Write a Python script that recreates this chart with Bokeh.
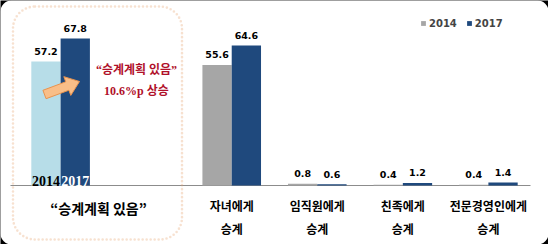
from bokeh.core.properties import value
from bokeh.embed import file_html
from bokeh.models import BoxAnnotation, FactorRange, Legend, LegendItem, Range1d
from bokeh.plotting import figure
from bokeh.resources import INLINE
import math

# --- data -------------------------------------------------------------------
categories = ["승계계획 있음", "자녀에게 승계", "임직원에게 승계", "친족에게 승계", "전문경영인에게 승계"]
years = ["2014", "2017"]
values_2014 = [57.2, 55.6, 0.8, 0.4, 0.4]
values_2017 = [67.8, 64.6, 0.6, 1.2, 1.4]
label_line1 = ["“승계계획 있음”", "자녀에게", "임직원에게", "친족에게", "전문경영인에게"]
label_line2 = ["", "승계", "승계", "승계", "승계"]
note_lines = ["“승계계획 있음”", "10.6%p 상승"]

# --- layout -----------------------------------------------------------------
W, H = 548, 244
BAR_PX = 29.3            # pixel width of one bar slot
GROUP_PAD = 0.92         # gap between groups, in bar widths
BASE_PX = 185            # pixel row of the zero line
PX_PER_UNIT = 2.168      # vertical pixels per percentage point

LIGHT, GRAY, NAVY, RED = "#B7DDE8", "#A6A6A6", "#1F497D", "#B0102A"
FONT_KR = "Noto Sans CJK KR"
FONT_NUM = "DejaVu Sans"
FONT_SERIF = "Liberation Serif"

SPACER = " "
factors = [(categories[0], y) for y in years] + [(SPACER, y) for y in years] + \
          [(c, y) for c in categories[1:] for y in years]
n_units = len(factors) + (len(categories)) * GROUP_PAD
PAD = (W / BAR_PX - n_units) / 2


def xpx(px):
    return -PAD + px / BAR_PX


def ypx(py):
    return (BASE_PX - py) / PX_PER_UNIT


x_range = FactorRange(*factors, group_padding=GROUP_PAD, factor_padding=0,
                      range_padding=PAD, range_padding_units="absolute")
y_range = Range1d(-(H - BASE_PX) / PX_PER_UNIT, BASE_PX / PX_PER_UNIT)

p = figure(width=W, height=H, x_range=x_range, y_range=y_range,
           x_axis_location=None, y_axis_location=None,
           output_backend="svg", toolbar_location=None, min_border=0)
p.grid.visible = False
p.outline_line_color = None
p.background_fill_color = "black"
p.border_fill_color = "black"

# white rounded card
p.add_layout(BoxAnnotation(fill_color="white", fill_alpha=1, line_alpha=0,
                           border_radius=11, level="underlay"))

# dotted highlight around the first group
p.add_layout(BoxAnnotation(left=xpx(12.5), right=xpx(181.5), top=ypx(6), bottom=ypx(239),
                           fill_alpha=0, line_color="#E39A62", line_width=2.6,
                           line_dash="0 4", line_cap="round", border_radius=22))

# baseline
p.segment(x0=[xpx(10)], y0=[0], x1=[xpx(530)], y1=[0], line_color="#8C8C8C", line_width=1)

# --- bars -------------------------------------------------------------------
r_first = p.vbar(x=[(categories[0], "2014")], top=[values_2014[0]], width=1.0,
                 fill_color=LIGHT, line_color=None)
r_2014 = p.vbar(x=[(c, "2014") for c in categories[1:]], top=values_2014[1:], width=1.0,
                fill_color=GRAY, line_color=None)
r_2017 = p.vbar(x=[(c, "2017") for c in categories], top=values_2017, width=1.0,
                fill_color=NAVY, line_color=None)

# value labels
p.text(x=[(c, "2014") for c in categories], y=values_2014,
       text=[f"{v:.1f}" for v in values_2014], text_align="center",
       text_baseline="alphabetic", y_offset=-10, text_font=value(FONT_NUM),
       text_font_style="bold", text_font_size="9.5px", text_color="black")
p.text(x=[(c, "2017") for c in categories], y=values_2017,
       text=[f"{v:.1f}" for v in values_2017], text_align="center",
       text_baseline="alphabetic", y_offset=-10, text_font=value(FONT_NUM),
       text_font_style="bold", text_font_size="9.5px", text_color="black")

# year captions inside the highlighted bars
p.text(x=[(categories[0], y) for y in years], y=[0, 0], text=years,
       text_align="center", text_baseline="alphabetic", y_offset=-5,
       text_font=value(FONT_SERIF), text_font_style="bold", text_font_size="14px",
       text_color=["black", "white"])

# category labels
p.text(x=categories[1:], y=[ypx(205)] * 4, text=label_line1[1:], text_align="center",
       text_baseline="middle", text_font=value(FONT_KR), text_font_style="bold",
       text_font_size="12px", text_color="black")
p.text(x=categories[1:], y=[ypx(227.5)] * 4, text=label_line2[1:], text_align="center",
       text_baseline="middle", text_font=value(FONT_KR), text_font_style="bold",
       text_font_size="12px", text_color="black")
p.text(x=[xpx(98)], y=[ypx(207)], text=[label_line1[0]], text_align="center",
       text_baseline="middle", text_font=value(FONT_KR), text_font_style="bold",
       text_font_size="14px", text_color="black")

# growth note
p.text(x=[xpx(136)] * 2, y=[ypx(69), ypx(90)], text=note_lines, text_align="center",
       text_baseline="middle", text_font=value(f"{FONT_SERIF}, {FONT_KR}"),
       text_font_style="bold", text_font_size="12px", text_color=RED)

# block arrow pointing from the 2014 bar to the 2017 bar
tail, tip = (44.0, 94.0), (79.0, 81.0)
dx, dy = tip[0] - tail[0], tip[1] - tail[1]
L = math.hypot(dx, dy)
ux, uy = dx / L, dy / L
nx, ny = -uy, ux
shaft_w, head_w, head_l = 9.0, 20.0, 13.0
neck = (tip[0] - ux * head_l, tip[1] - uy * head_l)
pts = [
    (tail[0] + nx * shaft_w / 2, tail[1] + ny * shaft_w / 2),
    (neck[0] + nx * shaft_w / 2, neck[1] + ny * shaft_w / 2),
    (neck[0] + nx * head_w / 2, neck[1] + ny * head_w / 2),
    tip,
    (neck[0] - nx * head_w / 2, neck[1] - ny * head_w / 2),
    (neck[0] - nx * shaft_w / 2, neck[1] - ny * shaft_w / 2),
    (tail[0] - nx * shaft_w / 2, tail[1] - ny * shaft_w / 2),
]
p.patch(x=[xpx(a) for a, _ in pts], y=[ypx(b) for _, b in pts],
        fill_color="#F9BE88", line_color="#E9934E", line_width=1)

# legend
legend = Legend(items=[LegendItem(label="2014", renderers=[r_2014]),
                       LegendItem(label="2017", renderers=[r_2017])],
                orientation="horizontal", location=(420, H - 29),
                glyph_width=6, glyph_height=6, label_height=12, label_standoff=3,
                spacing=9, padding=0, margin=0, border_line_alpha=0,
                background_fill_alpha=0, label_text_font=FONT_NUM,
                label_text_font_style="bold", label_text_font_size="10px")
p.add_layout(legend, "center")

open("out.html", "w").write(file_html(p, INLINE))
